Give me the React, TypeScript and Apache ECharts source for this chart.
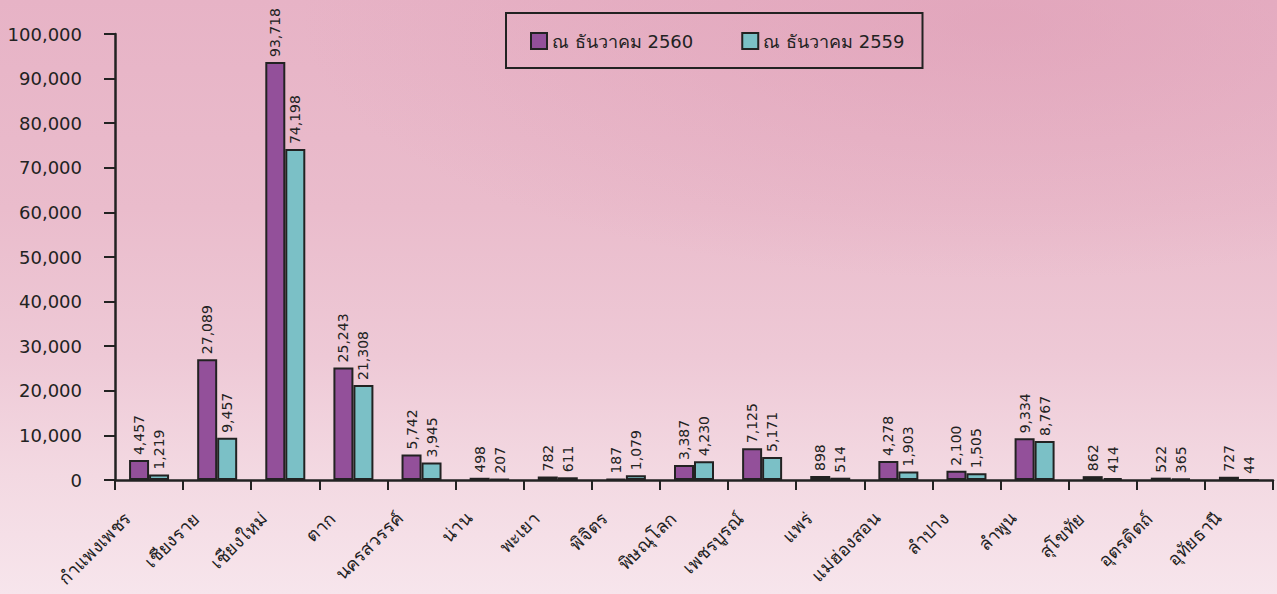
import React, { useEffect, useRef } from "react";
import * as echarts from "echarts";

const categories = [
  "กำแพงเพชร", "เชียงราย", "เชียงใหม่", "ตาก", "นครสวรรค์", "น่าน", "พะเยา", "พิจิตร",
  "พิษณุโลก", "เพชรบูรณ์", "แพร่", "แม่ฮ่องสอน", "ลำปาง", "ลำพูน", "สุโขทัย", "อุตรดิตถ์", "อุทัยธานี",
];
const values2560 = [4457, 27089, 93718, 25243, 5742, 498, 782, 187, 3387, 7125, 898, 4278, 2100, 9334, 862, 522, 727];
const values2559 = [1219, 9457, 74198, 21308, 3945, 207, 611, 1079, 4230, 5171, 514, 1903, 1505, 8767, 414, 365, 44];
const seriesNames = ["ณ ธันวาคม 2560", "ณ ธันวาคม 2559"];
const yMin = 0;
const yMax = 100000;
const yInterval = 10000;

const FONT = "'DejaVu Sans', 'Noto Sans', sans-serif";
const fmt = (v: number) => v.toLocaleString("en-US");

export default function App() {
  const ref = useRef<HTMLDivElement>(null);
  useEffect(() => {
    if (!ref.current) return;
    const chart = echarts.init(ref.current, undefined, { renderer: "svg" });
    const label = {
      show: true,
      position: "top" as const,
      rotate: 90,
      align: "left" as const,
      verticalAlign: "middle" as const,
      distance: 5,
      color: "#222",
      fontSize: 14,
      fontFamily: FONT,
      formatter: (p: any) => fmt(p.value),
    };
    chart.setOption({
      animation: false,
      backgroundColor: "transparent",
      grid: {
        left: 115,
        right: 4,
        top: 34,
        bottom: 114,
        containLabel: false,
        outerBoundsMode: "none",
      },
      legend: {
        left: 506,
        top: 13,
        padding: [19, 18, 18, 24],
        itemGap: 48,
        itemWidth: 16,
        itemHeight: 16,
        icon: "rect",
        borderColor: "#222",
        borderWidth: 2,
        textStyle: { fontSize: 18, color: "#222", fontFamily: FONT },
        data: seriesNames,
      },
      xAxis: {
        type: "category",
        data: categories,
        boundaryGap: true,
        axisLine: { lineStyle: { color: "#222", width: 2.5 } },
        axisTick: { show: true, length: 10, lineStyle: { color: "#222", width: 2 } },
        axisLabel: {
          rotate: 45,
          interval: 0,
          margin: 14,
          fontSize: 18,
          color: "#222",
          fontFamily: FONT,
          padding: [0, 30, 0, 0],
        },
      },
      yAxis: {
        type: "value",
        min: yMin,
        max: yMax,
        interval: yInterval,
        splitLine: { show: false },
        axisLine: { show: true, lineStyle: { color: "#222", width: 2.5 } },
        axisTick: { show: true, length: 11, lineStyle: { color: "#222", width: 2 } },
        axisLabel: {
          fontSize: 18,
          color: "#222",
          fontFamily: FONT,
          margin: 33,
          formatter: (v: number) => fmt(v),
        },
      },
      series: [
        {
          name: seriesNames[0],
          type: "bar",
          data: values2560,
          barWidth: 20,
          barGap: "0%",
          itemStyle: { color: "#93509a", borderColor: "#222", borderWidth: 2 },
          label,
        },
        {
          name: seriesNames[1],
          type: "bar",
          data: values2559,
          barWidth: 20,
          barGap: "0%",
          itemStyle: { color: "#7bc0c6", borderColor: "#222", borderWidth: 2 },
          label,
        },
      ],
    });
    return () => chart.dispose();
  }, []);
  return (
    <div
      style={{
        position: "fixed",
        left: 0,
        top: 0,
        width: 1277,
        height: 594,
        background:
          "radial-gradient(ellipse 700px 260px at 1000px 20px, rgba(220,150,176,0.45), rgba(220,150,176,0)), linear-gradient(180deg, #e7b3c6 0%, #eabccc 35%, #eec9d6 60%, #f3d9e2 80%, #f7e5ec 100%)",
      }}
    >
      <div ref={ref} style={{ width: 1277, height: 594 }} />
    </div>
  );
}
